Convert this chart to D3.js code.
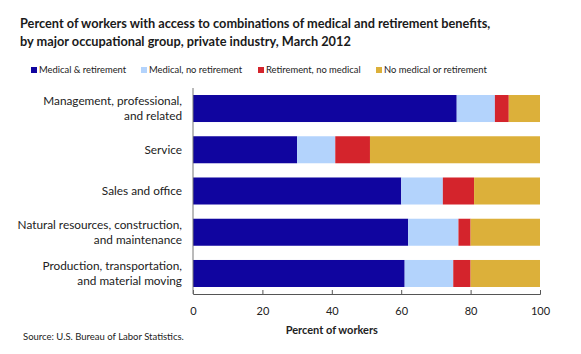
<html>
<meta charset="utf-8" />
<head>
<title>Benefits by occupational group</title>
<script src="https://cdn.jsdelivr.net/npm/d3@7/dist/d3.min.js"></script>
<style>
  body { margin: 0; background: #fff; }
  svg text { font-family: Lato, "Open Sans", sans-serif; }
</style>
</head>
<body>
<svg id="chart" width="581" height="354"></svg>
<script>
// data (percent of workers)
const groups = [
	"Management, professional,|and related",
	"Service",
	"Sales and office",
	"Natural resources, construction,|and maintenance",
	"Production, transportation,|and material moving"
];
const seriesNames = ["Medical & retirement", "Medical, no retirement", "Retirement, no medical", "No medical or retirement"];
const medRet   = [76, 30, 60, 62, 61];
const medOnly  = [11, 11, 12, 14.5, 14];
const retOnly  = [4, 10, 9, 3.5, 5];
const neither  = [9, 49, 19, 20, 20];
const xTicks = [0, 20, 40, 60, 80, 100];
const colors = ["#10059f", "#b3d3fc", "#d4242c", "#dcb03a"];

const svg = d3.select('#chart');
const margin = {left: 193, right: 41, top: 88, bottom: 60};
const W = 581, H = 354;

const rows = groups.map((g, i) => ({group: g, v: [medRet[i], medOnly[i], retOnly[i], neither[i]]}));
const stack = d3.stack().keys([0, 1, 2, 3]).value((d, k) => d.v[k]);
const layers = stack(rows);

const x = d3.scaleLinear().domain([0, 100]).range([margin.left, W - margin.right]);
const y = d3.scaleBand().domain(groups).range([margin.top, H - margin.bottom]).paddingInner(0.345).paddingOuter(0.17);

// title
const title = svg.append('text').attr('x', 20).attr('y', 28)
	.style('font-weight', 'bold').style('font-size', '12.75px').attr('fill', '#1a1a1a');
title.append('tspan').attr('x', 20).text('Percent of workers with access to combinations of medical and retirement benefits,');
title.append('tspan').attr('x', 20).attr('dy', 18).text('by major occupational group, private industry, March 2012');

// legend
const legX = [31, 141, 258, 376];
const leg = svg.append('g').selectAll('g').data(seriesNames).enter().append('g')
	.attr('transform', (d, i) => `translate(${legX[i]},65)`);
leg.append('rect').attr('width', 6).attr('height', 6).attr('y', 2).attr('fill', (d, i) => colors[i]);
leg.append('text').attr('x', 8).attr('y', 8).style('font-size', '9.4px').attr('fill', '#222').text(d => d);

// bars
svg.append('g').selectAll('g').data(layers).enter().append('g')
	.attr('fill', (d, i) => colors[i])
	.selectAll('rect').data(d => d).enter().append('rect')
	.attr('x', d => x(d[0]))
	.attr('width', d => x(d[1]) - x(d[0]))
	.attr('y', d => y(d.data.group))
	.attr('height', y.bandwidth());

// x axis, ticks pointing up
const xAxis = svg.append('g').attr('transform', `translate(0,${H - margin.bottom})`)
	.call(d3.axisBottom(x).tickValues(xTicks).tickSize(-4).tickPadding(13));
xAxis.select('.domain').attr('stroke', '#555');
xAxis.selectAll('.tick line').attr('stroke', '#555');
xAxis.selectAll('.tick text').style('font-size', '11px').attr('fill', '#222')
	.style('font-family', 'Lato, sans-serif');

// y axis line
svg.append('line').attr('x1', margin.left).attr('x2', margin.left)
	.attr('y1', margin.top).attr('y2', H - margin.bottom).attr('stroke', '#777');

// category labels
const lab = svg.append('g').selectAll('text').data(groups).enter().append('text')
	.attr('text-anchor', 'end').style('font-size', '11.8px').attr('fill', '#222')
	.attr('y', d => {
		const n = d.split('|').length;
		return y(d) + y.bandwidth() / 2 + 4 - (n - 1) * 7.5;
	});
lab.selectAll('tspan').data(d => d.split('|')).enter().append('tspan')
	.attr('x', 182).attr('dy', (d, i) => i ? 15 : 0).text(d => d);

// axis title and source
svg.append('text').attr('x', x(40)).attr('y', 334)
	.attr('text-anchor', 'middle').style('font-weight', 'bold').style('font-size', '11px')
	.attr('fill', '#222').text('Percent of workers');
svg.append('text').attr('x', 23).attr('y', 340).style('font-size', '9.5px')
	.attr('fill', '#222').text('Source: U.S. Bureau of Labor Statistics.');
</script>
</body>
</html>
